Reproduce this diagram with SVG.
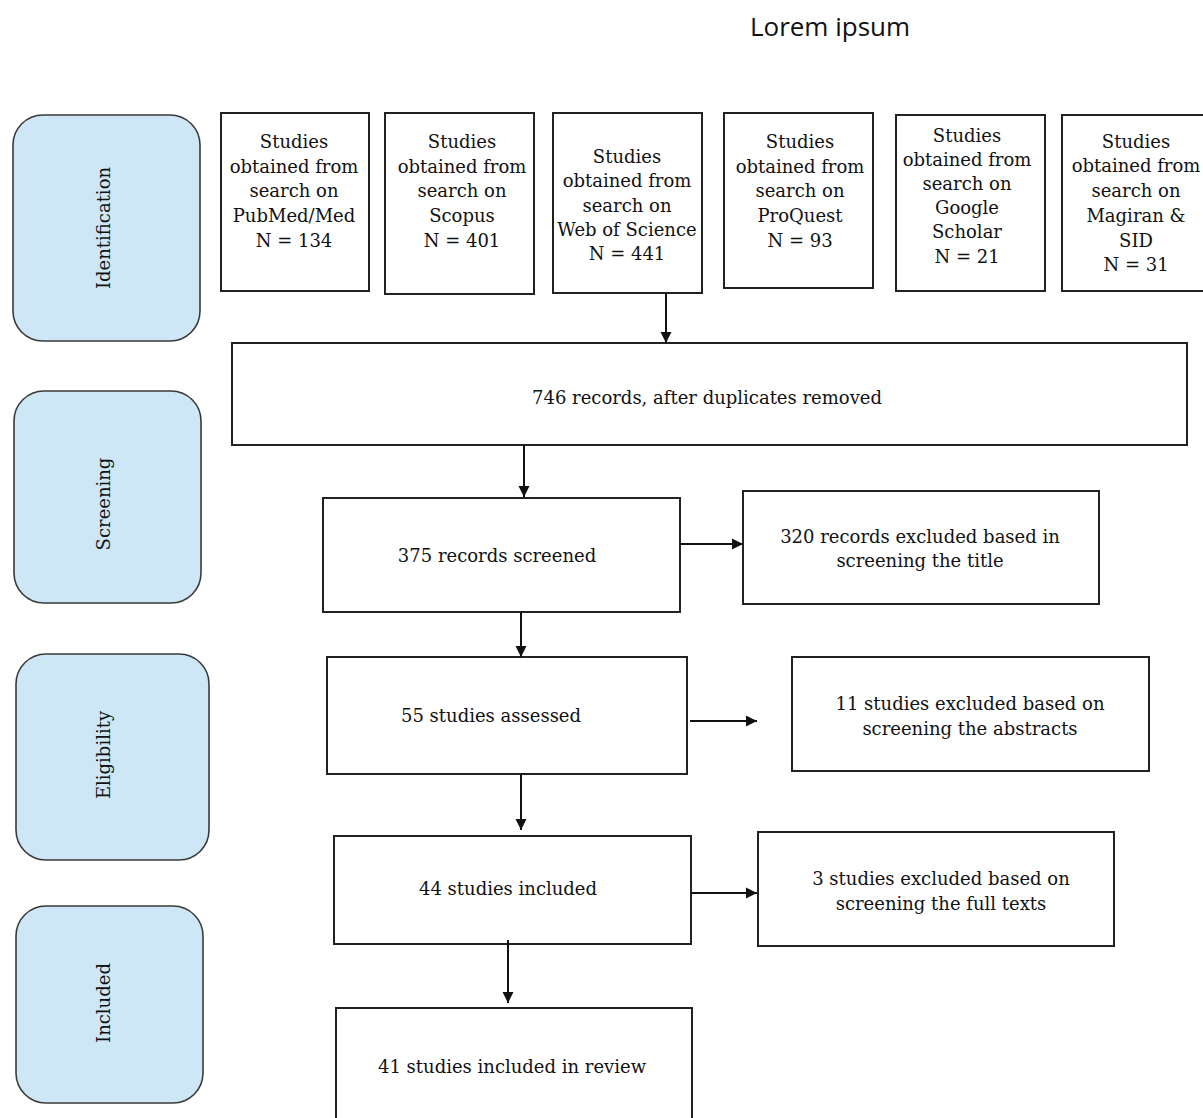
<svg xmlns="http://www.w3.org/2000/svg" width="1203" height="1118" viewBox="0 0 1203 1118">
<style>
  .phase{fill:#cde7f6;stroke:#3a3a3a;stroke-width:1.6}
  .box{fill:#fff;stroke:#222;stroke-width:2}
  .t{font-family:"DejaVu Serif","Liberation Serif",serif;font-size:18px;fill:#111;text-anchor:middle}
  .title{font-family:"Open Sans","Noto Sans",sans-serif;font-size:26px;fill:#111;text-anchor:middle}
  .conn{stroke:#111;stroke-width:2;fill:none}
</style>
<defs>
  <marker id="ah" markerUnits="userSpaceOnUse" markerWidth="12" markerHeight="12" refX="11" refY="6" orient="auto">
    <path d="M0,0.5 L11,6 L0,11.5 Z" fill="#111"/>
  </marker>
</defs>
<rect width="1203" height="1118" fill="#fff"/>
<text class="title" x="830" y="36">Lorem ipsum</text>

<g id="phase-identification"><rect class="phase" x="13" y="115" width="187" height="226" rx="30"/><text class="t" transform="translate(110,228) rotate(-90)">Identification</text></g>
<g id="phase-screening"><rect class="phase" x="14" y="391" width="187" height="212" rx="30"/><text class="t" transform="translate(110,504) rotate(-90)">Screening</text></g>
<g id="phase-eligibility"><rect class="phase" x="16" y="654" width="193" height="206" rx="30"/><text class="t" transform="translate(110,755) rotate(-90)">Eligibility</text></g>
<g id="phase-included"><rect class="phase" x="16" y="906" width="187" height="197" rx="30"/><text class="t" transform="translate(110,1003) rotate(-90)">Included</text></g>

<g id="src-pubmed"><rect class="box" x="221" y="113" width="148" height="178"/>
<text class="t" x="294"><tspan x="294" y="148">Studies</tspan><tspan x="294" y="173">obtained from</tspan><tspan x="294" y="197">search on</tspan><tspan x="294" y="222">PubMed/Med</tspan><tspan x="294" y="247">N = 134</tspan></text></g>
<g id="src-scopus"><rect class="box" x="385" y="113" width="149" height="181"/>
<text class="t"><tspan x="462" y="148">Studies</tspan><tspan x="462" y="173">obtained from</tspan><tspan x="462" y="197">search on</tspan><tspan x="462" y="222">Scopus</tspan><tspan x="462" y="247">N = 401</tspan></text></g>
<g id="src-wos"><rect class="box" x="553" y="113" width="149" height="180"/>
<text class="t"><tspan x="627" y="163">Studies</tspan><tspan x="627" y="187">obtained from</tspan><tspan x="627" y="212">search on</tspan><tspan x="627" y="236">Web of Science</tspan><tspan x="627" y="260">N = 441</tspan></text></g>
<g id="src-proquest"><rect class="box" x="724" y="113" width="149" height="175"/>
<text class="t"><tspan x="800" y="148">Studies</tspan><tspan x="800" y="173">obtained from</tspan><tspan x="800" y="197">search on</tspan><tspan x="800" y="222">ProQuest</tspan><tspan x="800" y="247">N = 93</tspan></text></g>
<g id="src-scholar"><rect class="box" x="896" y="115" width="149" height="176"/>
<text class="t"><tspan x="967" y="142">Studies</tspan><tspan x="967" y="166">obtained from</tspan><tspan x="967" y="190">search on</tspan><tspan x="967" y="214">Google</tspan><tspan x="967" y="238">Scholar</tspan><tspan x="967" y="263">N = 21</tspan></text></g>
<g id="src-magiran"><rect class="box" x="1062" y="115" width="150" height="176"/>
<text class="t"><tspan x="1136" y="148">Studies</tspan><tspan x="1136" y="172">obtained from</tspan><tspan x="1136" y="197">search on</tspan><tspan x="1136" y="222">Magiran &amp;</tspan><tspan x="1136" y="247">SID</tspan><tspan x="1136" y="271">N = 31</tspan></text></g>

<g id="n746"><rect class="box" x="232" y="343" width="955" height="102"/><text class="t" x="707" y="404">746 records, after duplicates removed</text></g>
<g id="n375"><rect class="box" x="323" y="498" width="357" height="114"/><text class="t" x="497" y="562">375 records screened</text></g>
<g id="n320"><rect class="box" x="743" y="491" width="356" height="113"/><text class="t"><tspan x="920" y="543">320 records excluded based in</tspan><tspan x="920" y="567">screening the title</tspan></text></g>
<g id="n55"><rect class="box" x="327" y="657" width="360" height="117"/><text class="t" x="491" y="722">55 studies assessed</text></g>
<g id="n11"><rect class="box" x="792" y="657" width="357" height="114"/><text class="t"><tspan x="970" y="710">11 studies excluded based on</tspan><tspan x="970" y="735">screening the abstracts</tspan></text></g>
<g id="n44"><rect class="box" x="334" y="836" width="357" height="108"/><text class="t" x="508" y="895">44 studies included</text></g>
<g id="n3"><rect class="box" x="758" y="832" width="356" height="114"/><text class="t"><tspan x="941" y="885">3 studies excluded based on</tspan><tspan x="941" y="910">screening the full texts</tspan></text></g>
<g id="n41"><rect class="box" x="336" y="1008" width="356" height="120"/><text class="t" x="512" y="1073">41 studies included in review</text></g>

<g id="connectors">
  <line class="conn" x1="666" y1="293" x2="666" y2="343" marker-end="url(#ah)"/>
  <line class="conn" x1="524" y1="445" x2="524" y2="497" marker-end="url(#ah)"/>
  <line class="conn" x1="680" y1="544" x2="743" y2="544" marker-end="url(#ah)"/>
  <line class="conn" x1="521" y1="612" x2="521" y2="657" marker-end="url(#ah)"/>
  <line class="conn" x1="690" y1="721" x2="757" y2="721" marker-end="url(#ah)"/>
  <line class="conn" x1="521" y1="774" x2="521" y2="830" marker-end="url(#ah)"/>
  <line class="conn" x1="691" y1="893" x2="757" y2="893" marker-end="url(#ah)"/>
  <line class="conn" x1="508" y1="940" x2="508" y2="1003" marker-end="url(#ah)"/>
</g>
</svg>
